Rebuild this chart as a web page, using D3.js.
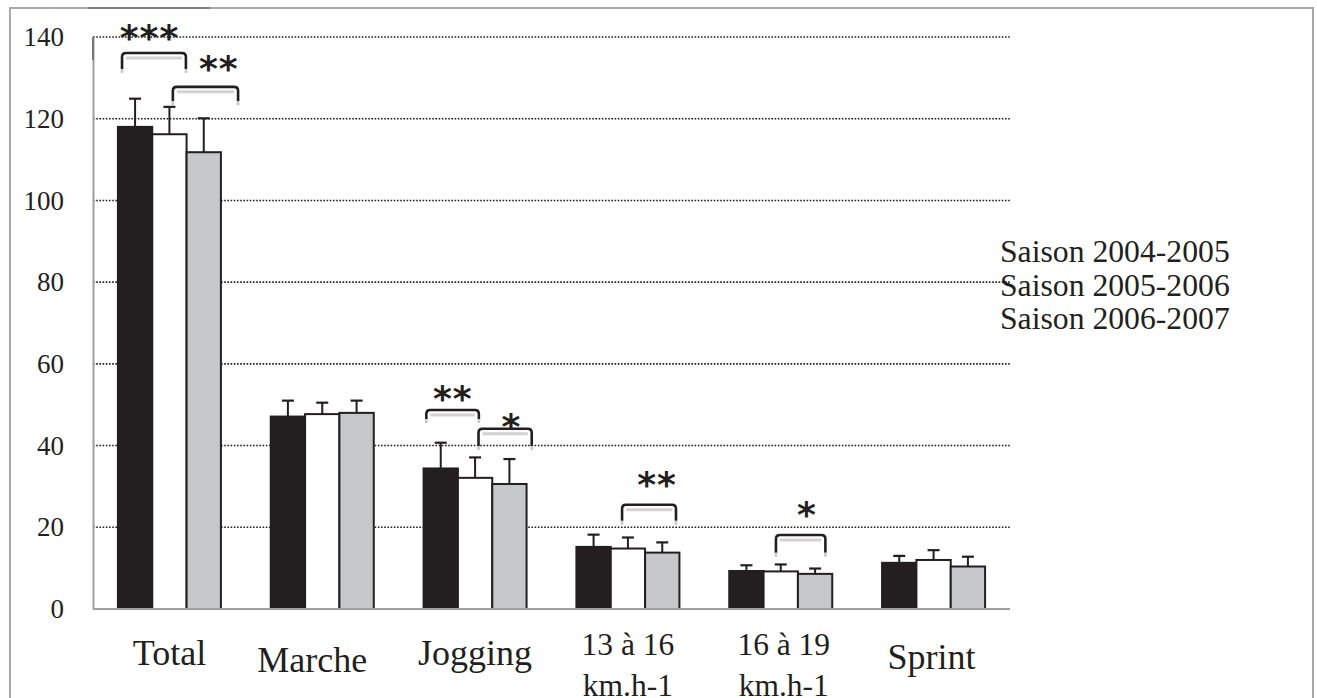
<!DOCTYPE html>
<html>
<head>
<meta charset="utf-8">
<script src="https://cdn.jsdelivr.net/npm/d3@7"></script>
<style>
  html, body { margin: 0; padding: 0; background: #fff; }
  svg { display: block; }
  svg text.serif { font-family: "Liberation Serif", "Times New Roman", Times, serif; }
  svg text.star { font-family: "DejaVu Sans", sans-serif; font-weight: bold; }
</style>
</head>
<body>
<svg id="chart" width="1317" height="698"></svg>
<script>
// Distance parcourue par type de course (moyenne ± écart-type), trois saisons
const categories = ["Total", "Marche", "Jogging", "13 à 16", "16 à 19", "Sprint"];
const categoryLines = [["Total"], ["Marche"], ["Jogging"], ["13 à 16", "km.h-1"], ["16 à 19", "km.h-1"], ["Sprint"]];
const seasons = ["Saison 2004-2005", "Saison 2005-2006", "Saison 2006-2007"];

const season1 = [118.0, 47.1, 34.4, 15.2, 9.3, 11.3];
const season2 = [116.2, 47.7, 32.1, 14.8, 9.2, 12.0];
const season3 = [111.8, 48.0, 30.6, 13.8, 8.6, 10.4];
const sd1 = [6.9, 3.9, 6.3, 3.0, 1.4, 1.7];
const sd2 = [6.7, 2.8, 5.0, 2.7, 1.7, 2.4];
const sd3 = [8.3, 3.0, 6.1, 2.5, 1.3, 2.4];

const yTicks = [0, 20, 40, 60, 80, 100, 120, 140];

// Comparaisons significatives : groupe, barres reliées, hauteur du crochet
const brackets = [
  { cat: "Total",   from: 0.12, to: 1.98, top: 136.1, leg: 131.2 },
  { cat: "Total",   from: 1.60, to: 3.50, top: 127.8, leg: 123.3 },
  { cat: "Jogging", from: 0.08, to: 1.61, top: 48.7,  leg: 45.5 },
  { cat: "Jogging", from: 1.60, to: 3.15, top: 44.1,  leg: 38.9 },
  { cat: "13 à 16", from: 1.33, to: 2.90, top: 25.5,  leg: 20.6 },
  { cat: "16 à 19", from: 1.36, to: 2.80, top: 18.1,  leg: 12.8 }
];
const stars = [
  { cat: "Total",   text: "***", at: 0.92, level: 142.1 },
  { cat: "Total",   text: "**",  at: 2.94, level: 134.6 },
  { cat: "Jogging", text: "**",  at: 0.85, level: 53.8 },
  { cat: "Jogging", text: "*",   at: 2.56, level: 47.0 },
  { cat: "13 à 16", text: "**",  at: 2.35, level: 32.7 },
  { cat: "16 à 19", text: "*",   at: 2.26, level: 25.3 }
];

const means = [season1, season2, season3];
const sds = [sd1, sd2, sd3];
const fills = ["#231f20", "#ffffff", "#c6c7c9"];
const ink = "#231f20";

const svg = d3.select("#chart");

// Cadre extérieur
svg.append("path")
  .attr("d", "M10,698 L10,8 L1313,8 L1313,698")
  .attr("fill", "none").attr("stroke", "#a9a9a9").attr("stroke-width", 2);
svg.append("line").attr("x1", 88).attr("x2", 210).attr("y1", 8).attr("y2", 8)
  .attr("stroke", "#7d7d7d").attr("stroke-width", 2);

const x0 = d3.scaleBand().domain(categories).range([93, 1010])
  .paddingInner(0.326).paddingOuter(0.163);
const x1 = d3.scaleBand().domain(d3.range(seasons.length)).range([0, x0.bandwidth()]);
const y = d3.scaleLinear().domain([0, 140]).range([609, 37]);
const bw = x1.bandwidth();

// Lignes de grille pointillées
svg.append("g").selectAll("line").data(yTicks.filter(t => t > 0)).join("line")
  .attr("x1", 93).attr("x2", 1010)
  .attr("y1", d => y(d)).attr("y2", d => y(d))
  .attr("stroke", ink).attr("stroke-width", 1.6).attr("stroke-dasharray", "1.6,1.6");

// Axe vertical
const yAxis = svg.append("g").attr("transform", "translate(93,0)")
  .call(d3.axisLeft(y).tickValues(yTicks).tickSize(0).tickPadding(29));
yAxis.attr("font-family", null).attr("font-size", null);
yAxis.select(".domain").attr("stroke", "#a0a0a0").attr("stroke-width", 2);
yAxis.selectAll("text").attr("class", "serif")
  .style("font-size", "27px").attr("fill", ink);
svg.append("line").attr("x1", 93).attr("x2", 93).attr("y1", y(140)).attr("y2", y(140) + 23)
  .attr("stroke", "#777").attr("stroke-width", 2);

// Barres
const groups = svg.append("g").selectAll("g").data(categories).join("g")
  .attr("transform", c => `translate(${x0(c)},0)`);

groups.each(function (c, ci) {
  const g = d3.select(this);
  means.forEach((serie, si) => {
    const v = serie[ci], e = sds[si][ci];
    const cx = x1(si) + bw / 2;
    g.append("line")
      .attr("x1", cx).attr("x2", cx).attr("y1", y(v)).attr("y2", y(v + e))
      .attr("stroke", ink).attr("stroke-width", 2);
    g.append("line")
      .attr("x1", cx - 6).attr("x2", cx + 6).attr("y1", y(v + e)).attr("y2", y(v + e))
      .attr("stroke", ink).attr("stroke-width", 2.2);
  });
  means.forEach((serie, si) => {
    const v = serie[ci];
    g.append("rect")
      .attr("x", x1(si)).attr("y", y(v))
      .attr("width", bw).attr("height", y(0) - y(v))
      .attr("fill", fills[si]).attr("stroke", ink).attr("stroke-width", 2);
  });
});

// Ligne de base
svg.append("line").attr("x1", 93).attr("x2", 1010).attr("y1", y(0)).attr("y2", y(0))
  .attr("stroke", "#a0a0a0").attr("stroke-width", 2);

// Crochets de significativité
const brk = svg.append("g");
brackets.forEach(b => {
  const xa = x0(b.cat) + b.from * bw, xb = x0(b.cat) + b.to * bw;
  const yt = y(b.top), yl = y(b.leg), r = 4;
  brk.append("line").attr("x1", xa + 4).attr("x2", xb - 4).attr("y1", yt + 5).attr("y2", yt + 5)
    .attr("stroke", "#d2d2d2").attr("stroke-width", 3);
  brk.append("path")
    .attr("d", `M${xa},${yl - 4} L${xa},${yt + r} Q${xa},${yt} ${xa + r},${yt} L${xb - r},${yt} Q${xb},${yt} ${xb},${yt + r} L${xb},${yl - 4}`)
    .attr("fill", "none").attr("stroke", ink).attr("stroke-width", 2.6);
  [xa, xb].forEach(xx => brk.append("line")
    .attr("x1", xx).attr("x2", xx).attr("y1", yl - 4).attr("y2", yl)
    .attr("stroke", "#c8c8c8").attr("stroke-width", 2.6));
});

// Astérisques
const starSize = 36;
svg.append("g").selectAll("text").data(stars).join("text")
  .attr("class", "star")
  .attr("x", d => x0(d.cat) + d.at * bw)
  .attr("y", d => y(d.level) + 0.6 * starSize)
  .attr("text-anchor", "middle")
  .style("font-size", starSize + "px")
  .style("letter-spacing", "1px")
  .attr("fill", ink)
  .text(d => d.text);

// Étiquettes des catégories
const labelShift = { "Marche": [-10, 7], "16 à 19": [3, 0], "Sprint": [-2, 4] };
svg.append("g").selectAll("text").data(categories).join("text")
  .attr("class", "serif")
  .attr("text-anchor", "middle")
  .attr("fill", ink)
  .each(function (c, i) {
    const lines = categoryLines[i];
    const s = labelShift[c] || [0, 0];
    const cx = x0(c) + x0.bandwidth() / 2 + s[0];
    const t = d3.select(this);
    if (lines.length === 1) {
      t.style("font-size", "36px").append("tspan").attr("x", cx).attr("y", 665 + s[1]).text(lines[0]);
    } else {
      t.style("font-size", "31.5px");
      t.append("tspan").attr("x", cx).attr("y", 655 + s[1]).text(lines[0]);
      t.append("tspan").attr("x", cx).attr("y", 696 + s[1]).text(lines[1]);
    }
  });

// Légende
svg.append("g").selectAll("text").data(seasons).join("text")
  .attr("class", "serif")
  .attr("x", 1000).attr("y", (d, i) => 262 + i * 33.5)
  .style("font-size", "31.7px").attr("fill", ink)
  .text(d => d);
</script>
</body>
</html>
